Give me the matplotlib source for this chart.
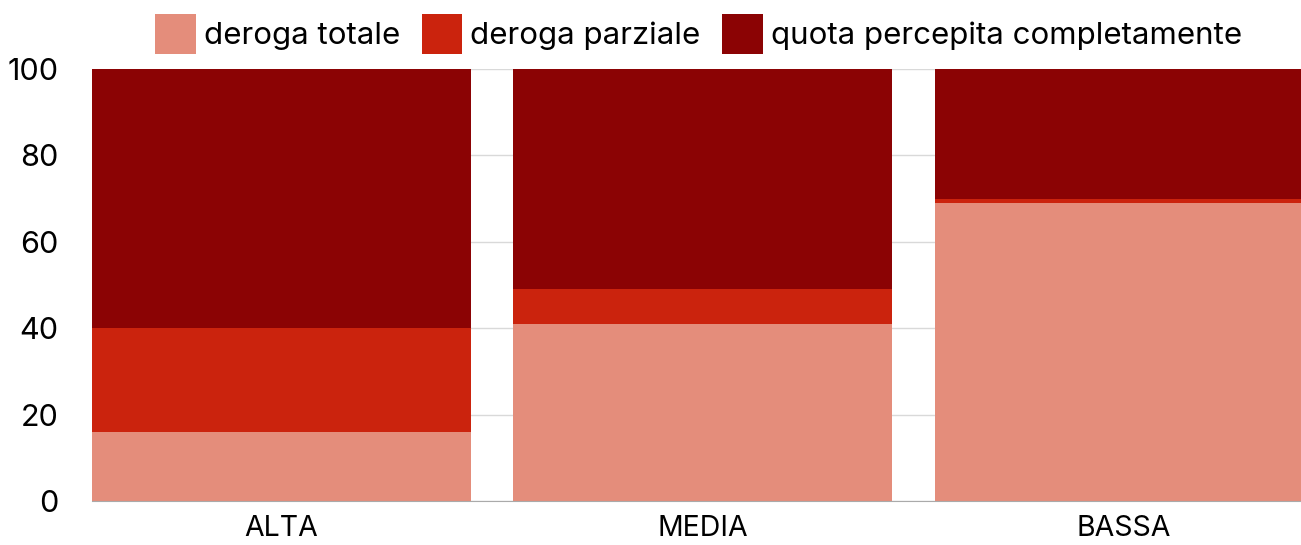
import numpy as np
import matplotlib.pyplot as plt
from matplotlib.patches import Patch

plt.rcParams['font.family'] = ['Inter', 'DejaVu Sans']

# Data
categories = ['ALTA', 'MEDIA', 'BASSA']
deroga_totale = [16, 41, 69]
deroga_parziale = [24, 8, 1]
quota_completa = [60, 51, 30]
series_labels = ['deroga totale', 'deroga parziale', 'quota percepita completamente']
colors = ['#E48D7B', '#CB230D', '#8B0304']

fig = plt.figure(figsize=(13.01, 5.45), dpi=100)
ax = fig.add_axes([92 / 1301, 44 / 545, 1 - 92 / 1301, 432 / 545])

x = np.arange(len(categories))
bottom = np.zeros(len(categories))
for vals, col in zip([deroga_totale, deroga_parziale, quota_completa], colors):
    ax.bar(x, vals, width=0.9, bottom=bottom, color=col, zorder=2)
    bottom += np.array(vals)

ax.set_xlim(-0.45, 2.42)
ax.set_ylim(0, 100)
ax.set_yticks(range(0, 101, 20))
ax.set_xticks(x)
ax.set_xticklabels(categories)
ax.tick_params(axis='both', length=0, colors='black')
ax.tick_params(axis='y', pad=24, labelsize=22)
ax.tick_params(axis='x', pad=10, labelsize=20.5)
ax.grid(axis='y', color='#d9d9d9', linewidth=1, zorder=0)
for s in ['top', 'right', 'left']:
    ax.spines[s].set_visible(False)
ax.spines['bottom'].set_color('#aaaaaa')

handles = [Patch(facecolor=c, label=l) for c, l in zip(colors, series_labels)]
fig.legend(handles=handles, loc='center', bbox_to_anchor=(0.537, 0.938),
           ncol=3, frameon=False, fontsize=22.5, handlelength=1.3, handleheight=1.6,
           handletextpad=0.25, columnspacing=0.7, borderpad=0)

fig.savefig('out.png', dpi=100)
